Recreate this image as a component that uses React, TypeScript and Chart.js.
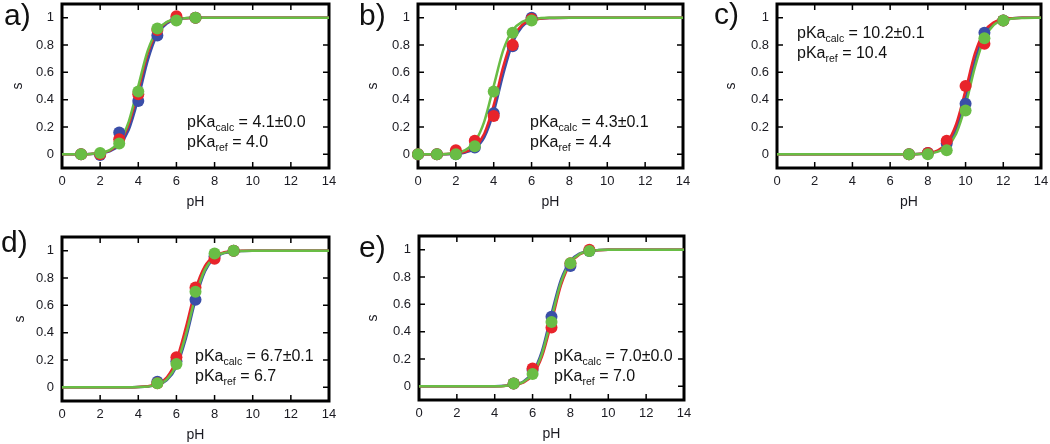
import React, { useEffect, useRef } from 'react';
import { Chart, registerables } from 'chart.js';

Chart.register(...registerables);

const FONT = '"Liberation Sans", Arial, Helvetica, sans-serif';
const TEXT = '#1b1b22';
const RED = '#e8242b';
const BLUE = '#3a4ea8';
const GREEN = '#69bd45';

const X_TICKS = [0, 2, 4, 6, 8, 10, 12, 14];
const Y_TICKS = [0, 0.2, 0.4, 0.6, 0.8, 1];

// ---- panel a ----
const PH_A = [1, 2, 3, 4, 5, 6, 7];
const RED_A = [0, 0, 0.11, 0.44, 0.91, 1.01, 1.0];
const BLUE_A = [0, -0.005, 0.16, 0.39, 0.87, 0.99, 1.0];
const GREEN_A = [0, 0.01, 0.08, 0.46, 0.92, 0.98, 1.0];
const FIT_X_A = [0, 1, 1.5, 2, 2.5, 3, 3.5, 4, 4.5, 5, 5.5, 6, 6.5, 7, 8, 14];
const FIT_RED_A = [0, 0.001, 0.003, 0.009, 0.027, 0.082, 0.22, 0.47, 0.74, 0.9, 0.966, 0.989, 0.996, 0.999, 1, 1];
const FIT_BLUE_A = [0, 0.001, 0.002, 0.007, 0.022, 0.066, 0.18, 0.41, 0.69, 0.88, 0.957, 0.986, 0.996, 0.999, 1, 1];
const FIT_GREEN_A = [0, 0.001, 0.003, 0.01, 0.031, 0.091, 0.24, 0.5, 0.76, 0.909, 0.969, 0.99, 0.997, 0.999, 1, 1];

// ---- panel b ----
const PH_B = [0, 1, 2, 3, 4, 5, 6];
const RED_B = [0, 0, 0.03, 0.1, 0.28, 0.8, 0.99];
const BLUE_B = [0, 0, 0, 0.05, 0.3, 0.79, 1.0];
const GREEN_B = [0, 0, 0, 0.06, 0.46, 0.89, 0.98];
const FIT_X_B = [0, 1, 1.5, 2, 2.5, 3, 3.5, 4, 4.5, 5, 5.5, 6, 6.5, 7, 8, 14];
const FIT_RED_B = [0, 0.001, 0.002, 0.006, 0.018, 0.053, 0.151, 0.36, 0.64, 0.849, 0.947, 0.982, 0.994, 0.998, 1, 1];
const FIT_BLUE_B = [0, 0, 0.001, 0.005, 0.014, 0.043, 0.124, 0.31, 0.585, 0.817, 0.934, 0.978, 0.993, 0.998, 1, 1];
const FIT_GREEN_B = [0, 0.001, 0.003, 0.01, 0.031, 0.091, 0.24, 0.5, 0.76, 0.909, 0.969, 0.99, 0.997, 0.999, 1, 1];

// ---- panel c ----
const PH_C = [7, 8, 9, 10, 11, 12];
const RED_C = [0, 0.01, 0.1, 0.5, 0.81, 0.98];
const BLUE_C = [0, 0.01, 0.08, 0.37, 0.89, 0.98];
const GREEN_C = [0, 0, 0.03, 0.32, 0.85, 0.98];
const FIT_X_C = [0, 6, 7, 7.5, 8, 8.5, 9, 9.5, 10, 10.5, 11, 11.5, 12, 12.5, 13, 14];
const FIT_RED_C = [0, 0, 0.001, 0.003, 0.009, 0.027, 0.082, 0.22, 0.47, 0.74, 0.9, 0.966, 0.989, 0.996, 0.999, 1];
const FIT_BLUE_C = [0, 0, 0.001, 0.002, 0.007, 0.022, 0.066, 0.18, 0.41, 0.69, 0.88, 0.957, 0.986, 0.996, 0.999, 1];
const FIT_GREEN_C = [0, 0, 0.001, 0.002, 0.006, 0.018, 0.053, 0.151, 0.36, 0.64, 0.849, 0.947, 0.982, 0.994, 0.998, 1];

// ---- panel d ----
const PH_D = [5, 6, 7, 8, 9];
const RED_D = [0.03, 0.22, 0.73, 0.94, 1.0];
const BLUE_D = [0.04, 0.19, 0.64, 0.96, 1.0];
const GREEN_D = [0.03, 0.17, 0.7, 0.98, 1.0];
const FIT_X_D = [0, 3, 3.5, 4, 4.5, 5, 5.5, 6, 6.5, 7, 7.5, 8, 8.5, 9, 9.5, 10, 14];
const FIT_RED_D = [0, 0, 0.001, 0.003, 0.008, 0.025, 0.074, 0.2, 0.44, 0.715, 0.888, 0.962, 0.988, 0.996, 0.999, 1, 1];
const FIT_BLUE_D = [0, 0, 0.001, 0.002, 0.006, 0.018, 0.053, 0.151, 0.36, 0.64, 0.849, 0.947, 0.982, 0.994, 0.998, 0.999, 1];
const FIT_GREEN_D = [0, 0, 0.001, 0.002, 0.006, 0.02, 0.059, 0.166, 0.387, 0.666, 0.863, 0.952, 0.984, 0.995, 0.998, 0.999, 1];

// ---- panel e ----
const PH_E = [5, 6, 7, 8, 9];
const RED_E = [0.02, 0.13, 0.43, 0.9, 1.0];
const BLUE_E = [0.02, 0.12, 0.51, 0.88, 0.99];
const GREEN_E = [0.02, 0.09, 0.47, 0.9, 0.99];
const FIT_X_E = [0, 3, 3.5, 4, 4.5, 5, 5.5, 6, 6.5, 7, 7.5, 8, 8.5, 9, 9.5, 10, 14];
const FIT_RED_E = [0, 0, 0, 0.001, 0.003, 0.009, 0.027, 0.082, 0.22, 0.47, 0.74, 0.9, 0.966, 0.989, 0.996, 0.999, 1];
const FIT_BLUE_E = [0, 0, 0, 0.001, 0.004, 0.011, 0.034, 0.1, 0.26, 0.53, 0.78, 0.918, 0.973, 0.991, 0.997, 0.999, 1];
const FIT_GREEN_E = [0, 0, 0, 0.001, 0.003, 0.01, 0.031, 0.091, 0.24, 0.5, 0.76, 0.909, 0.969, 0.99, 0.997, 0.999, 1];

const framePlugin = {
  id: 'frame',
  beforeDatasetsDraw(chart: any) {
    const { ctx, chartArea, scales } = chart;
    const { left, top, right, bottom } = chartArea;
    const x = scales.x;
    const y = scales.y;
    ctx.save();
    ctx.strokeStyle = '#000';
    ctx.lineWidth = 1.5;
    ctx.beginPath();
    X_TICKS.forEach((v) => {
      const p = x.getPixelForValue(v);
      ctx.moveTo(p, bottom);
      ctx.lineTo(p, bottom - 6);
      ctx.moveTo(p, top);
      ctx.lineTo(p, top + 6);
    });
    Y_TICKS.forEach((v) => {
      const p = y.getPixelForValue(v);
      ctx.moveTo(left, p);
      ctx.lineTo(left + 6, p);
      ctx.moveTo(right, p);
      ctx.lineTo(right - 6, p);
    });
    ctx.stroke();
    ctx.lineWidth = 3;
    ctx.strokeRect(left, top, right - left, bottom - top);
    ctx.restore();
  },
};

type PanelProps = {
  plot: [number, number, number, number];
  sX: number;
  ph: number[];
  red: number[];
  blue: number[];
  green: number[];
  fitX: number[];
  fitRed: number[];
  fitBlue: number[];
  fitGreen: number[];
};

const YW = 62;
const PT = 6;
const PR = 8;
const XH = 45;

function Panel(props: PanelProps) {
  const ref = useRef<HTMLCanvasElement>(null);
  const [L, T, R, B] = props.plot;
  const cw = R - L + YW + PR;
  const ch = B - T + PT + XH;
  const cLeft = L - YW;
  const cTop = T - PT;

  useEffect(() => {
    if (!ref.current) return;
    const pts = (xs: number[], ys: number[]) => xs.map((x, i) => ({ x, y: ys[i] }));
    const tickFont = { family: FONT, size: 13 };
    const titleFont = { family: FONT, size: 14 };
    const pointDs = (ys: number[], color: string, order: number) => ({
      type: 'scatter' as const,
      data: pts(props.ph, ys),
      backgroundColor: color,
      borderColor: color,
      borderWidth: 0,
      pointRadius: 6,
      pointHoverRadius: 6,
      clip: false as any,
      order,
    });
    const lineDs = (ys: number[], color: string, order: number) => ({
      type: 'line' as const,
      data: pts(props.fitX, ys),
      borderColor: color,
      backgroundColor: color,
      borderWidth: 2.5,
      pointRadius: 0,
      fill: false,
      cubicInterpolationMode: 'monotone' as const,
      order,
    });
    const lh = titleFont.size * 1.2;
    const yTitlePad = props.sX - 1.5 - lh / 2 - cLeft;
    const chart = new Chart(ref.current, {
      type: 'scatter',
      data: {
        datasets: [
          pointDs(props.green, GREEN, 0),
          pointDs(props.red, RED, 1),
          pointDs(props.blue, BLUE, 2),
          lineDs(props.fitGreen, GREEN, 3),
          lineDs(props.fitRed, RED, 4),
          lineDs(props.fitBlue, BLUE, 5),
        ] as any,
      },
      options: {
        responsive: false,
        maintainAspectRatio: false,
        animation: false,
        events: [],
        layout: { padding: { left: 0, top: PT, right: PR, bottom: 0 } },
        plugins: { legend: { display: false }, tooltip: { enabled: false } },
        scales: {
          x: {
            type: 'linear',
            min: 0,
            max: 14,
            grid: { display: false, drawTicks: false },
            border: { display: false },
            afterBuildTicks: (s: any) => {
              s.ticks = X_TICKS.map((v) => ({ value: v }));
            },
            afterFit: (s: any) => {
              s.height = XH;
              s.paddingLeft = 0;
              s.paddingRight = 0;
              s.paddingTop = 0;
              s.paddingBottom = 0;
            },
            ticks: {
              padding: 6,
              font: tickFont,
              color: TEXT,
              maxRotation: 0,
              autoSkip: false,
              callback: (v: any) => String(v),
            },
            title: {
              display: true,
              text: 'pH',
              font: titleFont,
              color: TEXT,
              padding: { top: 0, bottom: 2.5 },
            },
          },
          y: {
            type: 'linear',
            min: -0.1,
            max: 1.1,
            grid: { display: false, drawTicks: false },
            border: { display: false },
            afterBuildTicks: (s: any) => {
              s.ticks = Y_TICKS.map((v) => ({ value: v }));
            },
            afterFit: (s: any) => {
              s.width = YW;
              s.paddingLeft = 0;
              s.paddingRight = 0;
              s.paddingTop = 0;
              s.paddingBottom = 0;
            },
            ticks: {
              padding: 8,
              font: tickFont,
              color: TEXT,
              autoSkip: false,
              callback: (v: any) => String(Math.round(v * 10) / 10),
            },
            title: {
              display: true,
              text: 's',
              font: titleFont,
              color: TEXT,
              padding: { top: yTitlePad, bottom: 0 },
            },
          },
        },
      } as any,
      plugins: [framePlugin],
    });
    return () => chart.destroy();
  }, []);

  return (
    <canvas
      ref={ref}
      width={cw}
      height={ch}
      style={{ position: 'absolute', left: cLeft, top: cTop, width: cw, height: ch }}
    />
  );
}

function PanelLabel({ text, left, top }: { text: string; left: number; top: number }) {
  return (
    <div
      style={{
        position: 'absolute',
        left,
        top,
        fontFamily: FONT,
        fontSize: 30,
        lineHeight: '30px',
        color: '#111',
      }}
    >
      {text}
    </div>
  );
}

function Annot({ calc, ref_, left, top }: { calc: string; ref_: string; left: number; top: number }) {
  const sub: React.CSSProperties = { fontSize: 10.5, position: 'relative', top: 4, lineHeight: 0 };
  return (
    <div
      style={{
        position: 'absolute',
        left,
        top,
        fontFamily: FONT,
        fontSize: 16,
        lineHeight: '20px',
        color: '#111',
        whiteSpace: 'nowrap',
      }}
    >
      <div>
        pKa<span style={sub}>calc</span> = {calc}
      </div>
      <div>
        pKa<span style={sub}>ref</span> = {ref_}
      </div>
    </div>
  );
}

export default function App() {
  return (
    <div
      style={{
        position: 'absolute',
        left: 0,
        top: 0,
        width: 1050,
        height: 444,
        background: '#fff',
        overflow: 'hidden',
      }}
    >
      <Panel
        plot={[62, 4, 329, 168]}
        sX={20}
        ph={PH_A}
        red={RED_A}
        blue={BLUE_A}
        green={GREEN_A}
        fitX={FIT_X_A}
        fitRed={FIT_RED_A}
        fitBlue={FIT_BLUE_A}
        fitGreen={FIT_GREEN_A}
      />
      <Panel
        plot={[418, 4, 683, 168]}
        sX={375}
        ph={PH_B}
        red={RED_B}
        blue={BLUE_B}
        green={GREEN_B}
        fitX={FIT_X_B}
        fitRed={FIT_RED_B}
        fitBlue={FIT_BLUE_B}
        fitGreen={FIT_GREEN_B}
      />
      <Panel
        plot={[777, 4, 1041, 168]}
        sX={733}
        ph={PH_C}
        red={RED_C}
        blue={BLUE_C}
        green={GREEN_C}
        fitX={FIT_X_C}
        fitRed={FIT_RED_C}
        fitBlue={FIT_BLUE_C}
        fitGreen={FIT_GREEN_C}
      />
      <Panel
        plot={[62, 237, 329, 401]}
        sX={22}
        ph={PH_D}
        red={RED_D}
        blue={BLUE_D}
        green={GREEN_D}
        fitX={FIT_X_D}
        fitRed={FIT_RED_D}
        fitBlue={FIT_BLUE_D}
        fitGreen={FIT_GREEN_D}
      />
      <Panel
        plot={[419, 236, 684, 400]}
        sX={375}
        ph={PH_E}
        red={RED_E}
        blue={BLUE_E}
        green={GREEN_E}
        fitX={FIT_X_E}
        fitRed={FIT_RED_E}
        fitBlue={FIT_BLUE_E}
        fitGreen={FIT_GREEN_E}
      />

      <PanelLabel text="a)" left={4} top={0} />
      <PanelLabel text="b)" left={359} top={0} />
      <PanelLabel text="c)" left={714} top={-1} />
      <PanelLabel text="d)" left={1} top={227} />
      <PanelLabel text="e)" left={359} top={232} />

      <Annot calc="4.1±0.0" ref_="4.0" left={187} top={112} />
      <Annot calc="4.3±0.1" ref_="4.4" left={530} top={112} />
      <Annot calc="10.2±0.1" ref_="10.4" left={797} top={23} />
      <Annot calc="6.7±0.1" ref_="6.7" left={195} top={346} />
      <Annot calc="7.0±0.0" ref_="7.0" left={554} top={346} />
    </div>
  );
}
